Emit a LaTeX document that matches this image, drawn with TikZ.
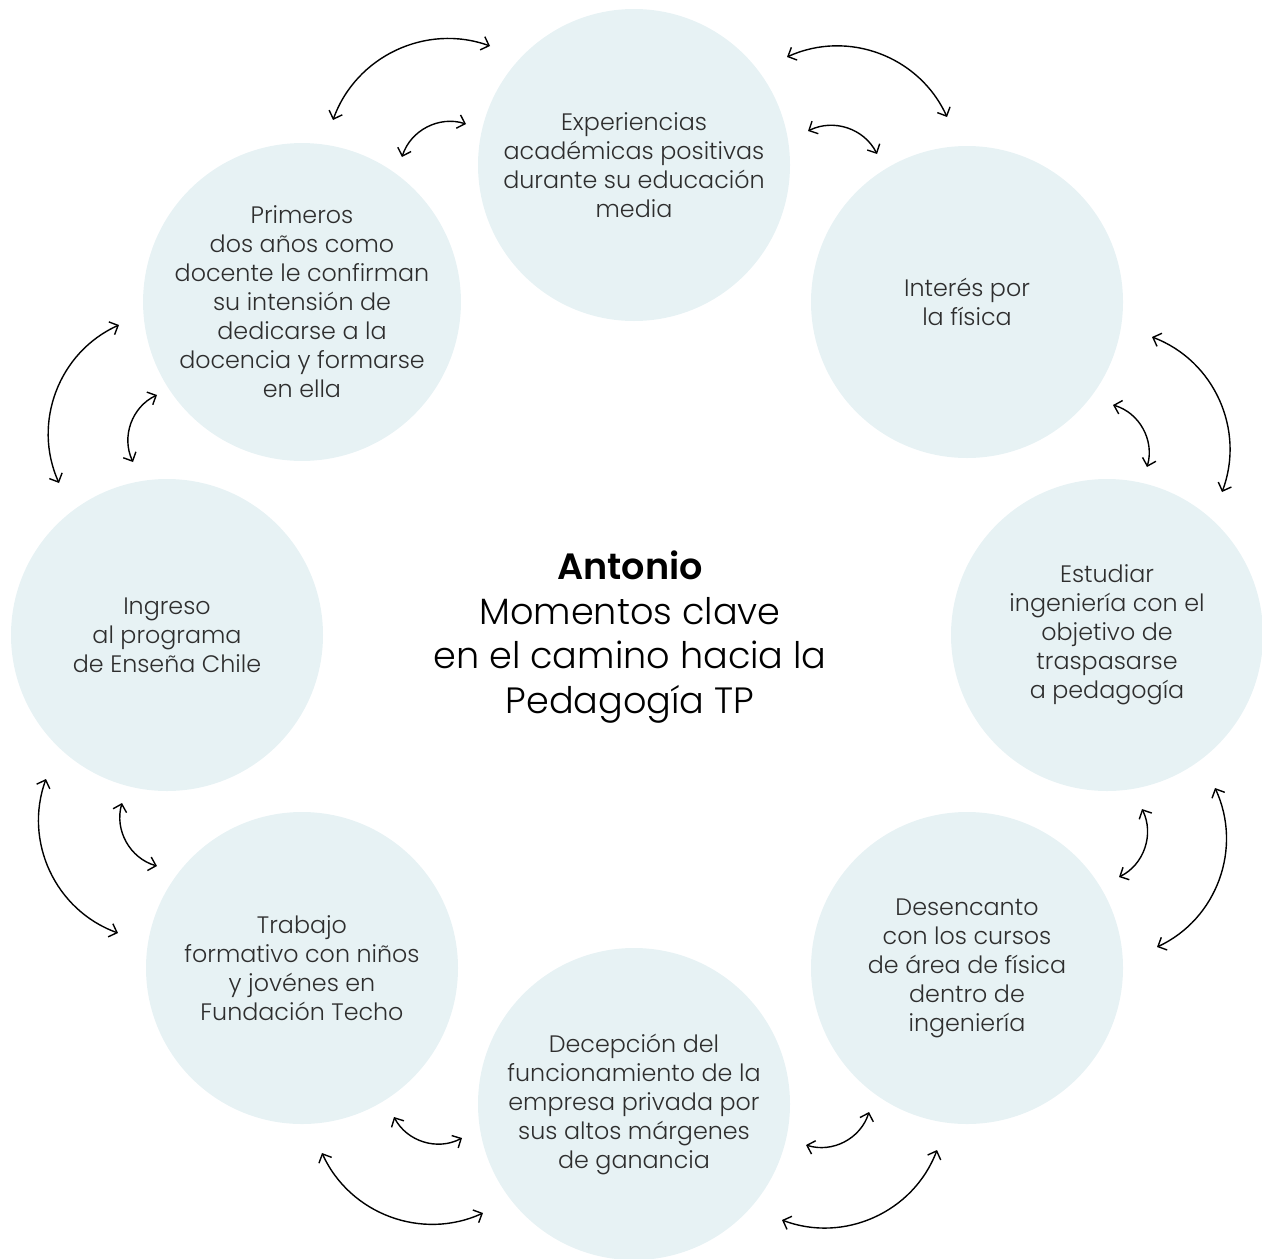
\documentclass[tikz,border=0pt]{standalone}
\usepackage{fontspec}
\setmainfont{Poppins}[UprightFont=* Light, BoldFont=* SemiBold]
\usetikzlibrary{arrows.meta}
\definecolor{circfill}{HTML}{E7F2F4}
\definecolor{txt}{HTML}{2E2E2E}
\begin{document}
\begin{tikzpicture}[x=0.5pt,y=0.5pt,
  moment/.style={circle, fill=circfill, minimum size=156pt, inner sep=0pt, align=center,
    text=txt, font=\fontsize{11.9pt}{14.5pt}\selectfont},
  arc/.style={>={Straight Barb[length=3.5pt,width=7pt]}, <->, line width=0.7pt, bend left=45}]
\useasboundingbox (0,0) rectangle (1262,-1258);
\node[moment] (top) at (634,-165) {Experiencias\\académicas positivas\\durante su educación\\media};
\node[moment] (tr) at (967,-302) {Interés por\\la física};
\node[moment] (r) at (1107,-635) {Estudiar\\ingeniería con el\\objetivo de\\traspasarse\\a pedagogía};
\node[moment] (br) at (967,-968) {Desencanto\\con los cursos\\de área de física\\dentro de\\ingeniería};
\node[moment] (bot) at (634,-1104) {Decepción del\\funcionamiento de la\\empresa privada por\\sus altos márgenes\\de ganancia};
\node[moment] (bl) at (302,-968) {Trabajo\\formativo con niños\\y jovénes en\\Fundación Techo};
\node[moment] (l) at (167,-635) {Ingreso\\al programa\\de Enseña Chile};
\node[moment] (tl) at (302,-302) {Primeros\\dos años como\\docente le confirman\\su intensión de\\dedicarse a la\\docencia y formarse\\en ella};
\node[align=center, text=black, font=\fontsize{18.3pt}{22.3pt}\selectfont] (title) at (630,-637)
  {\textbf{Antonio}\\Momentos clave\\en el camino hacia la\\Pedagogía TP};
% arrow end points
\coordinate (a1s) at (333,-120); \coordinate (a1e) at (490,-46);
\coordinate (b1s) at (402,-157); \coordinate (b1e) at (466,-124);
\coordinate (a2s) at (787,-57); \coordinate (a2e) at (947,-117);
\coordinate (b2s) at (808,-131); \coordinate (b2e) at (877,-154);
\coordinate (a3s) at (1152,-337); \coordinate (a3e) at (1222,-492);
\coordinate (b3s) at (1113,-405); \coordinate (b3e) at (1147,-467);
\coordinate (a4s) at (1215,-788); \coordinate (a4e) at (1157,-947);
\coordinate (b4s) at (1142,-809); \coordinate (b4e) at (1119,-877);
\coordinate (a5s) at (937,-1150); \coordinate (a5e) at (782,-1220);
\coordinate (b5s) at (869,-1112); \coordinate (b5e) at (806,-1145);
\coordinate (a6s) at (483,-1213); \coordinate (a6e) at (322,-1153);
\coordinate (b6s) at (462,-1138); \coordinate (b6e) at (394,-1117);
\coordinate (a7s) at (118,-933); \coordinate (a7e) at (46,-779);
\coordinate (b7s) at (157,-866); \coordinate (b7e) at (122,-803);
\coordinate (a8s) at (59,-483); \coordinate (a8e) at (119,-325);
\coordinate (b8s) at (133,-462); \coordinate (b8e) at (157,-395);
\foreach \i in {1,...,8} {
  \draw[arc] (a\i s) to (a\i e);
  \draw[arc] (b\i s) to (b\i e);
}
\end{tikzpicture}
\end{document}
